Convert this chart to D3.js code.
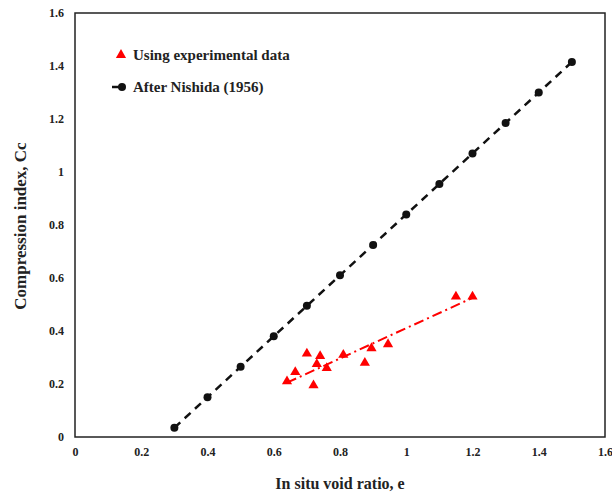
<!DOCTYPE html>
<meta charset="utf-8">
<html>
<head>
  <style>
    body { margin: 0; background: #fff; }
    svg { display: block; }
    text { font-family: "Liberation Serif", "Times New Roman", serif; font-weight: bold; fill: #222; }
    .tick text { font-size: 12px; }
  </style>
</head>
<body>
<svg width="612" height="493"></svg>
<script src="https://d3js.org/d3.v7.min.js"></script>
<script>
  // experimental points
  const expE  = [0.64, 0.665, 0.70, 0.72, 0.73, 0.74, 0.76, 0.81, 0.875, 0.895, 0.945, 1.15, 1.20];
  const expCc = [0.21, 0.245, 0.315, 0.195, 0.275, 0.305, 0.26, 0.31, 0.28, 0.335, 0.35, 0.53, 0.53];
  // trend line through experimental data
  const trendE  = [0.64, 1.20];
  const trendCc = [0.205, 0.525];
  // Nishida (1956)
  const nishE  = [0.3, 0.4, 0.5, 0.6, 0.7, 0.8, 0.9, 1.0, 1.1, 1.2, 1.3, 1.4, 1.5];
  const nishCc = [0.035, 0.15, 0.265, 0.38, 0.495, 0.61, 0.725, 0.84, 0.955, 1.07, 1.185, 1.30, 1.415];
  const xTicks = [0, 0.2, 0.4, 0.6, 0.8, 1, 1.2, 1.4, 1.6];
  const yTicks = [0, 0.2, 0.4, 0.6, 0.8, 1, 1.2, 1.4, 1.6];

  const svg = d3.select("svg");
  const x = d3.scaleLinear().domain([0, 1.6]).range([75, 605]);
  const y = d3.scaleLinear().domain([0, 1.6]).range([437, 13]);

  svg.append("g")
    .attr("transform", "translate(0,437)")
    .call(d3.axisBottom(x).tickValues(xTicks).tickSize(0).tickPadding(10).tickFormat(d3.format("")))
    .call(g => g.select(".domain").remove());

  svg.append("g")
    .attr("transform", "translate(75,0)")
    .call(d3.axisLeft(y).tickValues(yTicks).tickSize(0).tickPadding(11).tickFormat(d3.format("")))
    .call(g => g.select(".domain").remove());

  svg.selectAll(".tick text").attr("fill", "#222");

  // frame
  svg.append("rect")
    .attr("x", x(0)).attr("y", y(1.6))
    .attr("width", x(1.6) - x(0)).attr("height", y(0) - y(1.6))
    .attr("fill", "none").attr("stroke", "#222").attr("stroke-width", 1.5);

  const line = d3.line().x(d => x(d[0])).y(d => y(d[1]));

  // Nishida
  const nish = nishE.map((e, i) => [e, nishCc[i]]);
  svg.append("path").datum(nish)
    .attr("d", line).attr("fill", "none")
    .attr("stroke", "#111").attr("stroke-width", 2.5).attr("stroke-dasharray", "8,6");
  svg.selectAll(".nish").data(nish).enter().append("circle")
    .attr("cx", d => x(d[0])).attr("cy", d => y(d[1])).attr("r", 4).attr("fill", "#111");

  // experimental trend
  const trend = trendE.map((e, i) => [e, trendCc[i]]);
  svg.append("path").datum(trend)
    .attr("d", line).attr("fill", "none")
    .attr("stroke", "#ff0000").attr("stroke-width", 2).attr("stroke-dasharray", "10,4,2,4");

  const tri = d3.symbol().type(d3.symbolTriangle).size(45);
  svg.selectAll(".exp").data(expE.map((e, i) => [e, expCc[i]])).enter().append("path")
    .attr("d", tri)
    .attr("transform", d => `translate(${x(d[0])},${y(d[1])})`)
    .attr("fill", "#ff0000");

  // legend
  svg.append("path").attr("d", tri).attr("transform", "translate(121,55)").attr("fill", "#ff0000");
  svg.append("text").attr("x", 133).attr("y", 60).style("font-size", "15px").text("Using experimental data");
  svg.append("line").attr("x1", 112).attr("x2", 122).attr("y1", 87).attr("y2", 87)
    .attr("stroke", "#111").attr("stroke-width", 2.5);
  svg.append("circle").attr("cx", 122).attr("cy", 87).attr("r", 4).attr("fill", "#111");
  svg.append("text").attr("x", 133).attr("y", 92).style("font-size", "15px").text("After Nishida (1956)");

  // axis titles
  svg.append("text").attr("x", 340).attr("y", 489).attr("text-anchor", "middle")
    .style("font-size", "16px").text("In situ void ratio, e");
  svg.append("text").attr("transform", "translate(26,226) rotate(-90)").attr("text-anchor", "middle")
    .style("font-size", "17px").text("Compression index, Cc");
</script>
</body>
</html>
